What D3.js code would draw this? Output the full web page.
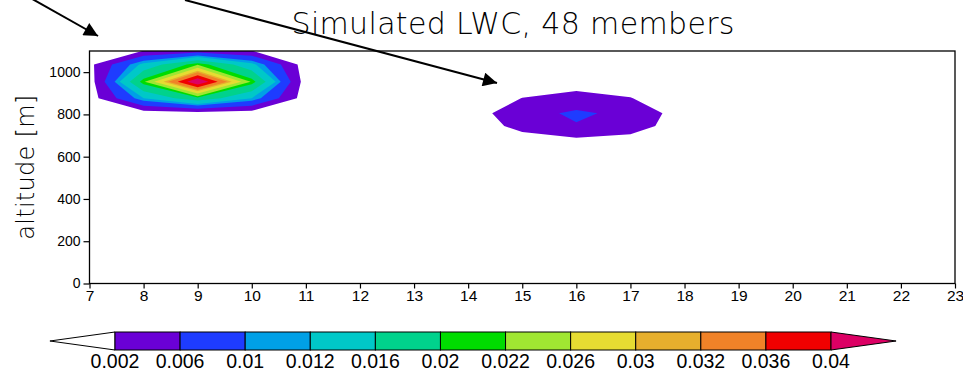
<!DOCTYPE html>
<html>
<head>
<meta charset="utf-8">
<script src="https://cdn.jsdelivr.net/npm/d3@7"></script>
<style>
  body { margin: 0; background: #fff; }
  text { font-family: "Liberation Sans", Arial, sans-serif; fill: #000; }
  .thin { font-family: "DejaVu Sans ExtraLight", "DejaVu Sans", sans-serif; font-weight: 200; }
</style>
</head>
<body>
<svg id="chart" width="963" height="371"></svg>
<script>
// grid columns (hour) and rows (model level height, m)
const hours = d3.range(7, 24);
const heights = [660, 745, 805, 877, 955, 1036, 1114];

// simulated LWC per level, one value per hour 7..23
const lwc660  = [0, 0, 0, 0, 0, 0, 0, 0, 0, 0, 0, 0, 0, 0, 0, 0, 0];
const lwc745  = [0, 0, 0, 0, 0, 0, 0, 0, 0.003, 0.0057, 0.0037, 0, 0, 0, 0, 0, 0];
const lwc805  = [0, 0, 0.0005, 0, 0, 0, 0, 0, 0.0045, 0.0067, 0.0049, 0, 0, 0, 0, 0, 0];
const lwc877  = [0, 0.012, 0.019, 0.012, 0, 0, 0, 0, 0.00205, 0.0035, 0.0021, 0, 0, 0, 0, 0, 0];
const lwc955  = [0, 0.0215, 0.0445, 0.0215, 0, 0, 0, 0, 0, 0, 0, 0, 0, 0, 0, 0, 0];
const lwc1036 = [0.001, 0.013, 0.0218, 0.013, 0, 0, 0, 0, 0, 0, 0, 0, 0, 0, 0, 0, 0];
const lwc1114 = [0, 0, 0, 0, 0, 0, 0, 0, 0, 0, 0, 0, 0, 0, 0, 0, 0];

const levels = [0.002, 0.006, 0.01, 0.012, 0.016, 0.02, 0.022, 0.026, 0.03, 0.032, 0.036, 0.04];
const levelLabels = ["0.002", "0.006", "0.01", "0.012", "0.016", "0.02", "0.022", "0.026", "0.03", "0.032", "0.036", "0.04"];
const yTicks = [0, 200, 400, 600, 800, 1000];

const colors = ["#ffffff", "#6a00d6", "#1e3cff", "#00a0e6", "#00c8c8", "#00d28c", "#00dc00",
                "#a0e632", "#e6dc32", "#e6af2d", "#f08228", "#f00000", "#dc0064"];

const svg = d3.select("#chart");
const pLeft = 89.5, pRight = 955, pTop = 51, pBottom = 283.5;

const x = d3.scaleLinear().domain([7, 23]).range([pLeft, pRight]);
const y = d3.scaleLinear().domain([0, 1100]).range([pBottom, pTop]);

// grid index -> data coords
const colToHour = d3.scaleLinear().domain(d3.range(hours.length)).range(hours);
const rowToHeight = d3.scaleLinear().domain(d3.range(heights.length)).range(heights);

const grid = [].concat(lwc660, lwc745, lwc805, lwc877, lwc955, lwc1036, lwc1114);

const contours = d3.contours()
  .size([hours.length, heights.length])
  .thresholds(levels)(grid);

const proj = d3.geoTransform({
  point: function (px, py) {
    this.stream.point(x(colToHour(px - 0.5)), y(rowToHeight(py - 0.5)));
  }
});
const path = d3.geoPath(proj);

svg.append("clipPath").attr("id", "plotclip")
  .append("rect").attr("x", pLeft).attr("y", pTop)
  .attr("width", pRight - pLeft).attr("height", pBottom - pTop);

svg.append("g").attr("clip-path", "url(#plotclip)")
  .selectAll("path")
  .data(contours)
  .join("path")
  .attr("d", path)
  .attr("fill", (d, i) => colors[i + 1])
  .attr("stroke", "none");

// frame
svg.append("rect")
  .attr("x", pLeft).attr("y", pTop)
  .attr("width", pRight - pLeft).attr("height", pBottom - pTop)
  .attr("fill", "none").attr("stroke", "#000").attr("stroke-width", 1.3);

// axes
const xAxis = svg.append("g")
  .attr("transform", `translate(0,${pBottom})`)
  .call(d3.axisBottom(x).tickValues(hours).tickFormat(d3.format("d")).tickSize(5).tickPadding(1));
const yAxis = svg.append("g")
  .attr("transform", `translate(${pLeft},0)`)
  .call(d3.axisLeft(y).tickValues(yTicks).tickFormat(d3.format("d")).tickSize(6).tickPadding(3));

[xAxis, yAxis].forEach(g => {
  g.select(".domain").remove();
  g.selectAll(".tick line").attr("stroke", "#000").attr("stroke-width", 1.2);
  g.selectAll(".tick text").attr("font-family", "Liberation Sans").attr("fill", "#000");
});
xAxis.selectAll(".tick text").attr("font-size", 15.5);
yAxis.selectAll(".tick text").attr("font-size", 14);

svg.append("text")
  .attr("class", "thin")
  .attr("transform", `translate(34,${(pTop + pBottom) / 2}) rotate(-90)`)
  .attr("text-anchor", "middle")
  .attr("font-size", 24)
  .attr("textLength", 145)
  .attr("lengthAdjust", "spacing")
  .text("altitude [m]");

svg.append("text")
  .attr("class", "thin")
  .attr("x", 513).attr("y", 34)
  .attr("text-anchor", "middle")
  .attr("font-size", 30)
  .attr("textLength", 443)
  .attr("lengthAdjust", "spacing")
  .text("Simulated LWC, 48 members");

// arrows
svg.append("defs").append("marker")
  .attr("id", "head").attr("viewBox", "0 0 10 10")
  .attr("refX", 10).attr("refY", 5)
  .attr("markerWidth", 8).attr("markerHeight", 7)
  .attr("markerUnits", "strokeWidth")
  .attr("orient", "auto")
  .append("path").attr("d", "M0,0 L10,5 L0,10 Z").attr("fill", "#000");

const arrows = [
  [[-5, -22], [98, 36]],
  [[185, 0], [497, 83]]
];
svg.append("g").selectAll("line")
  .data(arrows)
  .join("line")
  .attr("x1", d => d[0][0]).attr("y1", d => d[0][1])
  .attr("x2", d => d[1][0]).attr("y2", d => d[1][1])
  .attr("stroke", "#000").attr("stroke-width", 2)
  .attr("marker-end", "url(#head)");

// colour bar
const cb = d3.scaleLinear().domain([0, levels.length - 1]).range([115, 831]);
const cbTop = 332, cbBot = 350, cbMid = (cbTop + cbBot) / 2;
const bar = svg.append("g");

bar.append("path")
  .attr("d", `M${cb(0)},${cbTop} L${cb(-1)},${cbMid} L${cb(0)},${cbBot} Z`)
  .attr("fill", colors[0]).attr("stroke", "#000").attr("stroke-width", 1);

bar.selectAll("rect.box")
  .data(d3.range(levels.length - 1))
  .join("rect")
  .attr("class", "box")
  .attr("x", i => cb(i)).attr("y", cbTop)
  .attr("width", i => cb(i + 1) - cb(i)).attr("height", cbBot - cbTop)
  .attr("fill", i => colors[i + 1])
  .attr("stroke", "#000").attr("stroke-width", 1);

const last = levels.length - 1;
bar.append("path")
  .attr("d", `M${cb(last)},${cbTop} L${cb(last + 1)},${cbMid} L${cb(last)},${cbBot} Z`)
  .attr("fill", colors[colors.length - 1]).attr("stroke", "#000").attr("stroke-width", 1);

bar.selectAll("text.lab")
  .data(levelLabels)
  .join("text")
  .attr("class", "lab")
  .attr("x", (d, i) => cb(i)).attr("y", 368)
  .attr("text-anchor", "middle")
  .attr("font-size", 19.5)
  .text(d => d);
</script>
</body>
</html>
